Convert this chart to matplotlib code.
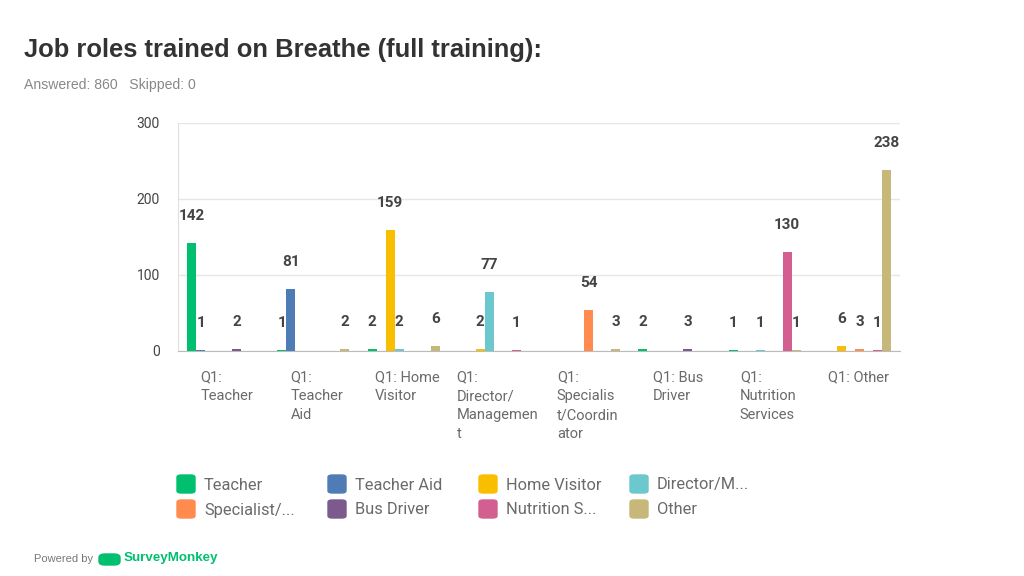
import matplotlib.pyplot as plt
import numpy as np
from matplotlib.patches import FancyBboxPatch
from matplotlib import transforms

# categories on the x axis (already wrapped the way the survey tool wraps them)
groups = ["Q1:\nTeacher", "Q1:\nTeacher\nAid", "Q1: Home\nVisitor", "Q1:\nDirector/\nManagemen\nt",
          "Q1:\nSpecialis\nt/Coordin\nator", "Q1: Bus\nDriver", "Q1:\nNutrition\nServices", "Q1: Other"]

# one list per answer series, one value per group
teacher = [142, 1, 2, 0, 0, 2, 1, 0]
teacher_aid = [1, 81, 0, 0, 0, 0, 0, 0]
home_visitor = [0, 0, 159, 2, 0, 0, 0, 6]
director = [0, 0, 2, 77, 0, 0, 1, 0]
specialist = [0, 0, 0, 0, 54, 0, 0, 3]
bus_driver = [2, 0, 0, 0, 0, 3, 0, 0]
nutrition = [0, 0, 0, 1, 0, 0, 130, 1]
other = [0, 2, 6, 0, 3, 0, 1, 238]

series = [teacher, teacher_aid, home_visitor, director, specialist, bus_driver, nutrition, other]
legend_labels = ["Teacher", "Teacher Aid", "Home Visitor", "Director/M...",
                 "Specialist/...", "Bus Driver", "Nutrition S...", "Other"]
colors = ["#00BF6F", "#507CB6", "#F9BE00", "#6BC8CD", "#FF8B4F", "#7D5A8E", "#D25F90", "#C7B879"]

yticks = [0, 100, 200, 300]

plt.rcParams['font.family'] = ['Roboto', 'DejaVu Sans']

fig = plt.figure(figsize=(10.24, 5.76), dpi=100)
W, H = 1024, 576
ax = fig.add_axes([178 / W, 1 - 351 / H, (900 - 178) / W, (351 - 123) / H])

x = np.arange(len(groups))
bar_w = 0.1
for i, vals in enumerate(series):
    pos = x + (i - 3.5) * bar_w
    ax.bar(pos, vals, width=bar_w, color=colors[i], zorder=3)
    for p, v in zip(pos, vals):
        if v > 0:
            ax.annotate(str(v), (p, v), xytext=(0, 19.5), textcoords='offset points',
                        ha='center', va='center', fontsize=11, fontweight='bold',
                        color='#444444', zorder=4)

ax.set_xlim(-0.5, len(groups) - 0.5)
ax.set_ylim(0, 300)
ax.set_yticks(yticks)
ax.set_yticklabels([str(t) for t in yticks], fontsize=10, color='#444444')
ax.tick_params(axis='y', length=0, pad=13)
ax.set_xticks([])
ax.grid(axis='y', color='#E6E6E6', linewidth=1, zorder=0)
for s in ['top', 'right']:
    ax.spines[s].set_visible(False)
ax.spines['left'].set_color('#E0E0E0')
ax.spines['bottom'].set_color('#BBBBBB')

# category labels, one block centred under each group
trans = transforms.blended_transform_factory(ax.transData, ax.transAxes)
for g, lab in zip(x, groups):
    ax.text(g + 0.04, -0.085, lab, transform=trans, ha='center', va='top',
            multialignment='left', fontsize=10.5, color='#6A6A6A', linespacing=1.45)

# legend, 2 rows x 4 columns
for i, (lab, c) in enumerate(zip(legend_labels, colors)):
    row, col = divmod(i, 4)
    px = 177 + col * 151
    py = 484 + row * 25
    fig.patches.append(FancyBboxPatch((px / W, 1 - (py + 9) / H), 18 / W, 18 / H,
                                      boxstyle="round,pad=0,rounding_size=0.004",
                                      transform=fig.transFigure, color=c))
    fig.text((px + 27) / W, 1 - (py + 1) / H, lab, fontsize=11.8, color='#6A6A6A',
             va='center', ha='left')

fig.text(24 / W, 1 - 50 / H, "Job roles trained on Breathe (full training):",
         fontsize=18.4, fontweight='bold', color='#333333', va='center', ha='left',
         family='Liberation Sans')
fig.text(24 / W, 1 - 85 / H, "Answered: 860   Skipped: 0", fontsize=10.1, color='#888888',
         va='center', ha='left', family='Liberation Sans')

fig.text(34 / W, 1 - 559 / H, "Powered by", fontsize=8, color='#777777', va='center',
         ha='left', family='Liberation Sans')
fig.text(124 / W, 1 - 558 / H, "SurveyMonkey", fontsize=9.6, color='#00BF6F', fontweight='bold',
         va='center', ha='left', family='Liberation Sans')
fig.patches.append(FancyBboxPatch((99 / W, 1 - 565 / H), 21 / W, 11 / H,
                                  boxstyle="round,pad=0,rounding_size=0.006",
                                  transform=fig.transFigure, color='#00BF6F'))

fig.savefig('out.png', dpi=100)
